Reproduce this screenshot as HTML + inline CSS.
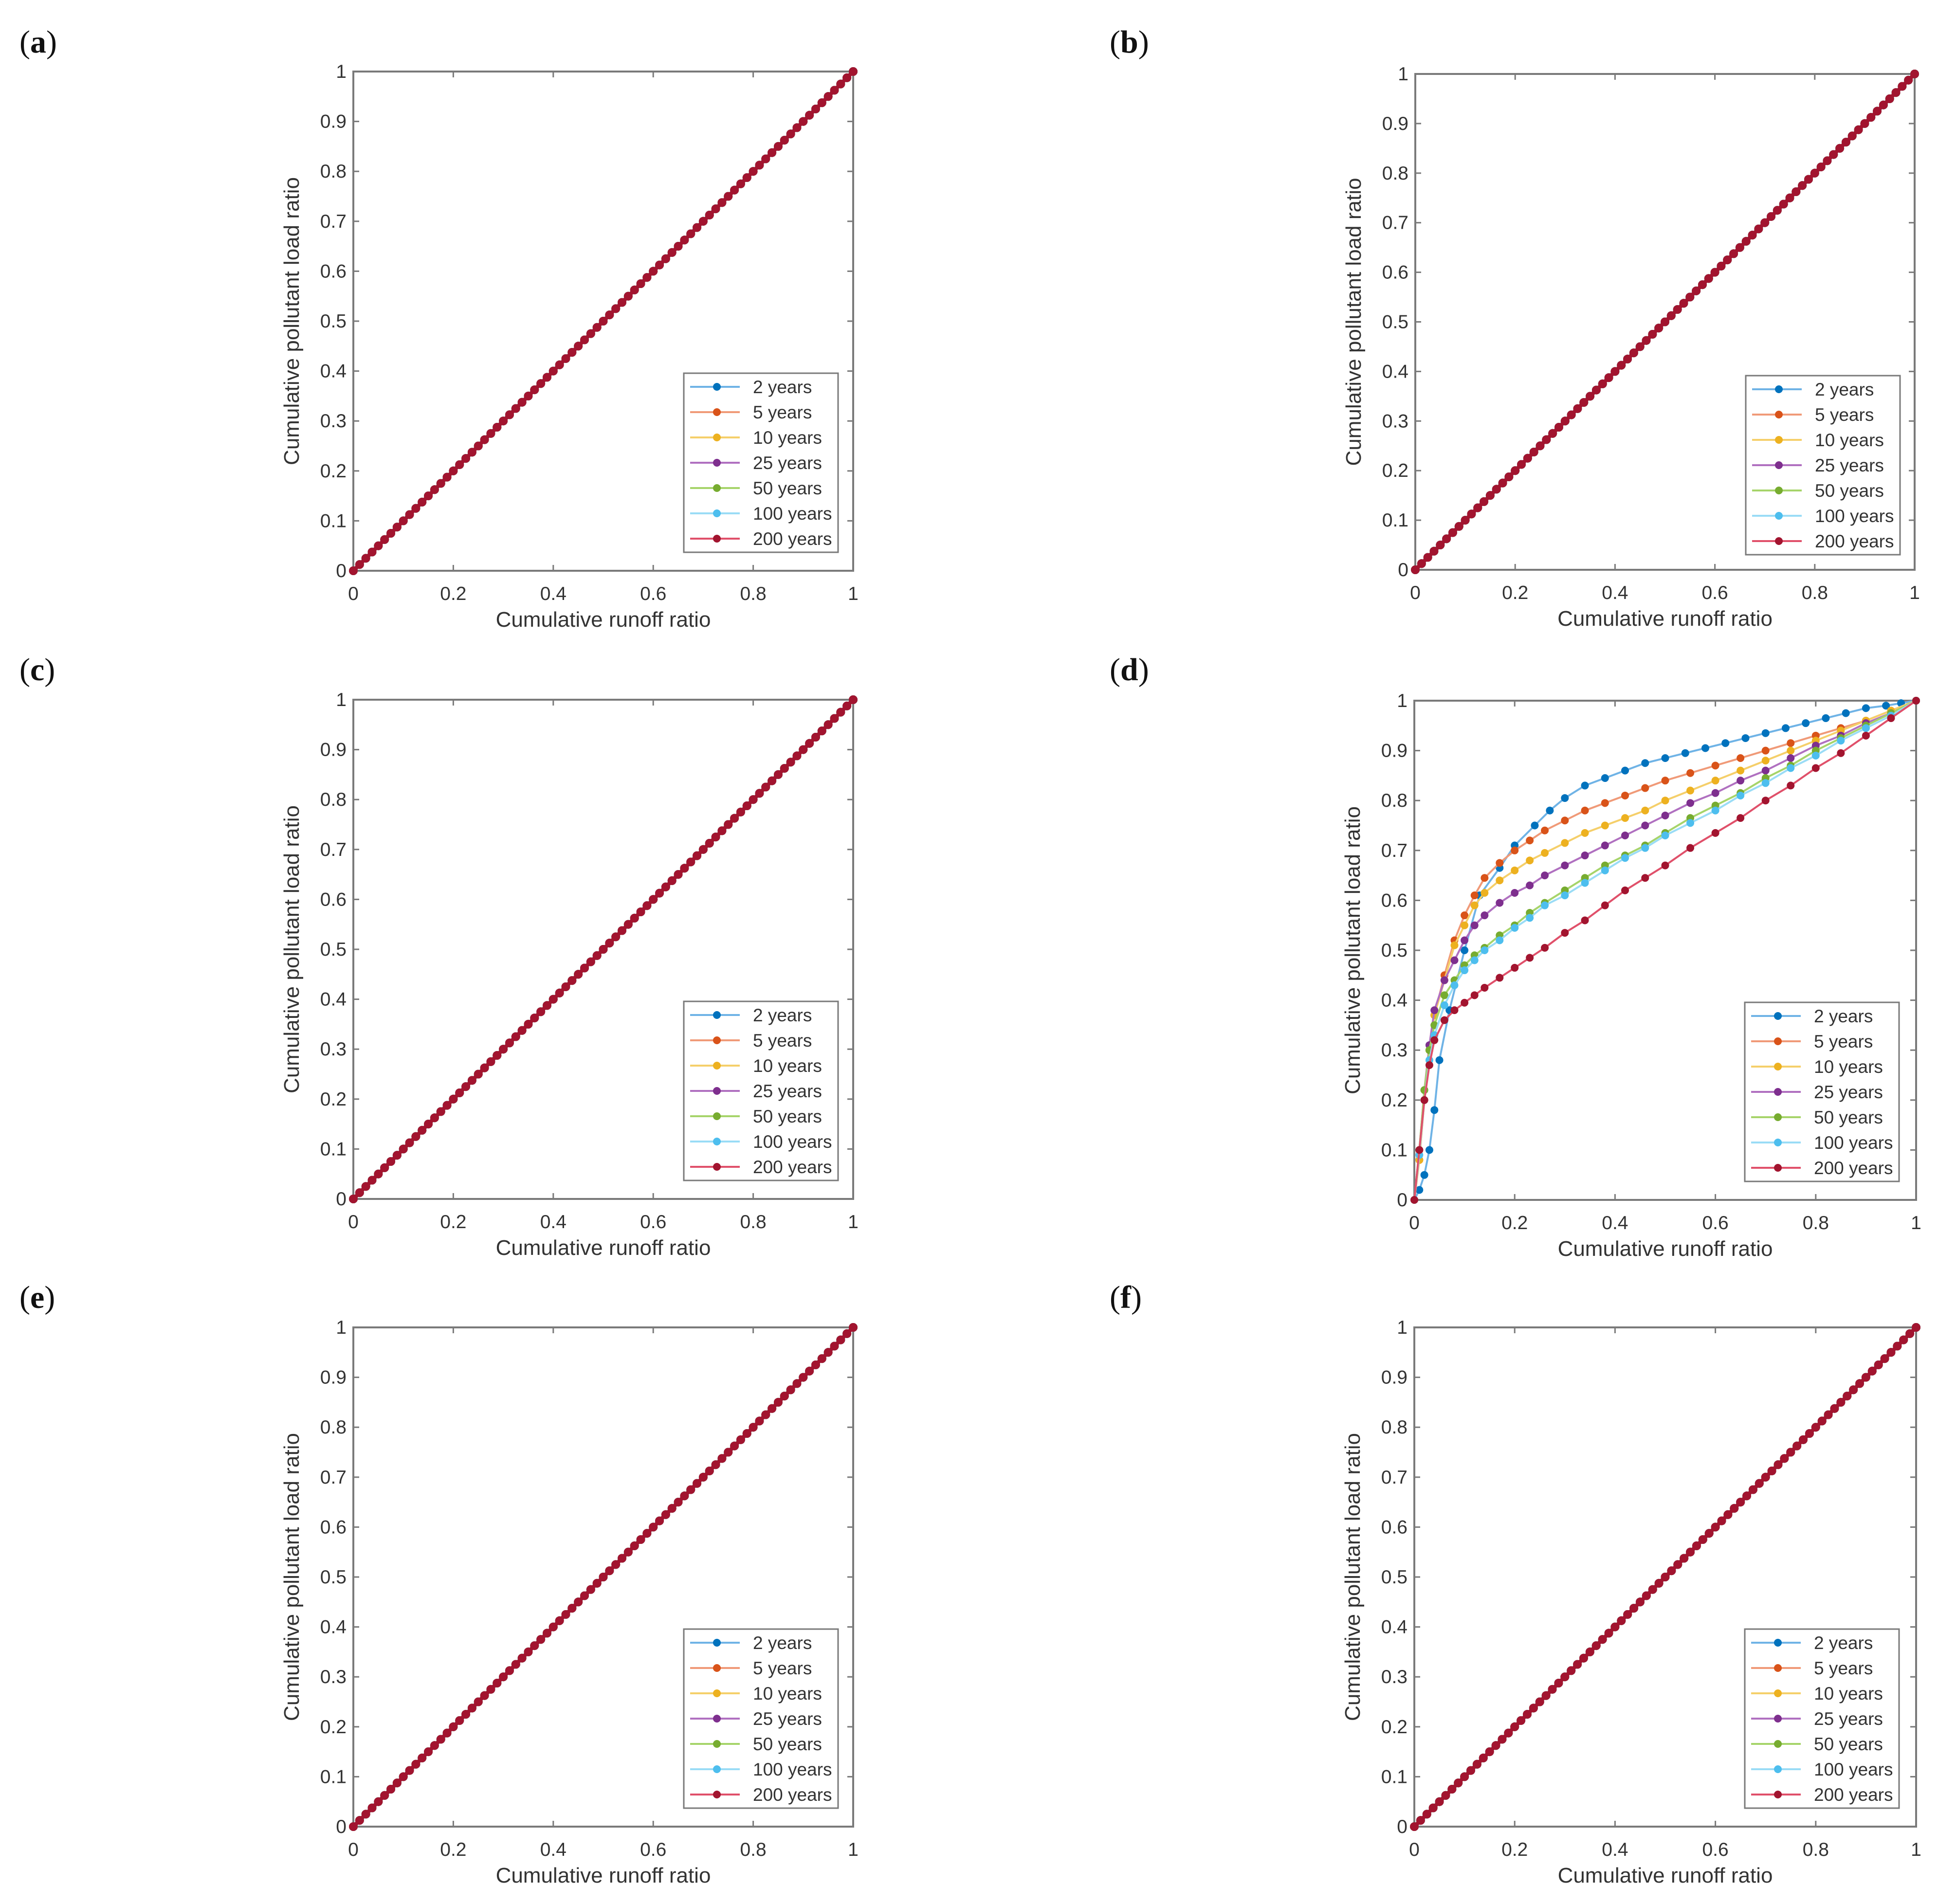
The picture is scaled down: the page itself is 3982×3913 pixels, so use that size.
<!DOCTYPE html>
<html><head><meta charset="utf-8">
<style>
html,body{margin:0;padding:0;background:#fff;}
svg{display:block;}
text{font-family:"Liberation Sans",sans-serif;}
text.plabel{font-family:"Liberation Serif",serif;}
</style></head>
<body>
<svg id="fig" width="3982" height="3913" viewBox="0 0 3982 3913" xmlns="http://www.w3.org/2000/svg">
<rect width="3982" height="3913" fill="#fff"/>
</svg>
<script>
// ---- data ----
const seriesNames = ["2 years","5 years","10 years","25 years","50 years","100 years","200 years"];
const markerColors = ["#0072BD","#D95319","#EDB120","#7E2F8E","#77AC30","#4DBEEE","#A2142F"];
const lineColors = ["#6fb3e6","#f09a78","#f5cf6a","#b070c0","#a6d46a","#9adcf6","#e0506a"];
const xTicks = [0,0.2,0.4,0.6,0.8,1];
const xTickLabels = ["0","0.2","0.4","0.6","0.8","1"];
const yTicks = [0,0.1,0.2,0.3,0.4,0.5,0.6,0.7,0.8,0.9,1];
const yTickLabels = ["0","0.1","0.2","0.3","0.4","0.5","0.6","0.7","0.8","0.9","1"];
const panelLetters = ["a","b","c","d","e","f"];

// near-diagonal panels: x grid and y values (y equals x)
const diagX = [0,0.0125,0.025,0.0375,0.05,0.0625,0.075,0.0875,0.1,0.1125,0.125,0.1375,0.15,0.1625,0.175,0.1875,0.2,0.2125,0.225,0.2375,0.25,0.2625,0.275,0.2875,0.3,0.3125,0.325,0.3375,0.35,0.3625,0.375,0.3875,0.4,0.4125,0.425,0.4375,0.45,0.4625,0.475,0.4875,0.5,0.5125,0.525,0.5375,0.55,0.5625,0.575,0.5875,0.6,0.6125,0.625,0.6375,0.65,0.6625,0.675,0.6875,0.7,0.7125,0.725,0.7375,0.75,0.7625,0.775,0.7875,0.8,0.8125,0.825,0.8375,0.85,0.8625,0.875,0.8875,0.9,0.9125,0.925,0.9375,0.95,0.9625,0.975,0.9875,1];
const diagY = [0,0.0125,0.025,0.0375,0.05,0.0625,0.075,0.0875,0.1,0.1125,0.125,0.1375,0.15,0.1625,0.175,0.1875,0.2,0.2125,0.225,0.2375,0.25,0.2625,0.275,0.2875,0.3,0.3125,0.325,0.3375,0.35,0.3625,0.375,0.3875,0.4,0.4125,0.425,0.4375,0.45,0.4625,0.475,0.4875,0.5,0.5125,0.525,0.5375,0.55,0.5625,0.575,0.5875,0.6,0.6125,0.625,0.6375,0.65,0.6625,0.675,0.6875,0.7,0.7125,0.725,0.7375,0.75,0.7625,0.775,0.7875,0.8,0.8125,0.825,0.8375,0.85,0.8625,0.875,0.8875,0.9,0.9125,0.925,0.9375,0.95,0.9625,0.975,0.9875,1];

// panel (d)
const d2X = [0,0.01,0.02,0.03,0.04,0.05,0.07,0.1,0.13,0.17,0.2,0.24,0.27,0.3,0.34,0.38,0.42,0.46,0.5,0.54,0.58,0.62,0.66,0.7,0.74,0.78,0.82,0.86,0.9,0.94,0.97,1];
const d2Y = [0,0.02,0.05,0.1,0.18,0.28,0.38,0.5,0.61,0.665,0.71,0.75,0.78,0.805,0.83,0.845,0.86,0.875,0.885,0.895,0.905,0.915,0.925,0.935,0.945,0.955,0.965,0.975,0.985,0.99,0.995,1];
const dX = [0,0.01,0.02,0.03,0.04,0.06,0.08,0.1,0.12,0.14,0.17,0.2,0.23,0.26,0.3,0.34,0.38,0.42,0.46,0.5,0.55,0.6,0.65,0.7,0.75,0.8,0.85,0.9,0.95,1];
const d5Y = [0,0.08,0.2,0.3,0.37,0.45,0.52,0.57,0.61,0.645,0.675,0.7,0.72,0.74,0.76,0.78,0.795,0.81,0.825,0.84,0.855,0.87,0.885,0.9,0.915,0.93,0.945,0.96,0.98,1];
const d10Y = [0,0.08,0.2,0.3,0.37,0.44,0.51,0.55,0.59,0.615,0.64,0.66,0.68,0.695,0.715,0.735,0.75,0.765,0.78,0.8,0.82,0.84,0.86,0.88,0.9,0.92,0.94,0.96,0.98,1];
const d25Y = [0,0.1,0.22,0.31,0.38,0.44,0.48,0.52,0.55,0.57,0.595,0.615,0.63,0.65,0.67,0.69,0.71,0.73,0.75,0.77,0.795,0.815,0.84,0.86,0.885,0.91,0.93,0.955,0.975,1];
const d50Y = [0,0.1,0.22,0.3,0.35,0.41,0.44,0.47,0.49,0.505,0.53,0.55,0.575,0.595,0.62,0.645,0.67,0.69,0.71,0.735,0.765,0.79,0.815,0.845,0.87,0.9,0.925,0.95,0.975,1];
const d100Y = [0,0.09,0.2,0.28,0.33,0.39,0.43,0.46,0.48,0.5,0.52,0.545,0.565,0.59,0.61,0.635,0.66,0.685,0.705,0.73,0.755,0.78,0.81,0.835,0.865,0.89,0.92,0.945,0.97,1];
const d200Y = [0,0.1,0.2,0.27,0.32,0.36,0.38,0.395,0.41,0.425,0.445,0.465,0.485,0.505,0.535,0.56,0.59,0.62,0.645,0.67,0.705,0.735,0.765,0.8,0.83,0.865,0.895,0.93,0.965,1];

// ---- drawing ----
const NS = "http://www.w3.org/2000/svg";
const svg = document.getElementById("fig");
function mk(tag, attrs, parent){
  const e = document.createElementNS(NS, tag);
  for (const k in attrs) e.setAttribute(k, attrs[k]);
  (parent||svg).appendChild(e);
  return e;
}
const panels = [
  {x0:726,y0:147,w:1027,h:1026,lx:40,ly:108},
  {x0:2908,y0:152,w:1026,h:1019,lx:2280,ly:108},
  {x0:726,y0:1438,w:1027,h:1026,lx:40,ly:1398},
  {x0:2906,y0:1440,w:1031,h:1026,lx:2280,ly:1398},
  {x0:726,y0:2728,w:1027,h:1026,lx:40,ly:2688},
  {x0:2906,y0:2728,w:1031,h:1026,lx:2280,ly:2688}
];
function seriesFor(i){
  if (i===3) return [[d2X,d2Y],[dX,d5Y],[dX,d10Y],[dX,d25Y],[dX,d50Y],[dX,d100Y],[dX,d200Y]];
  return seriesNames.map(()=>[diagX,diagY]);
}
panels.forEach((p,i)=>{
  const g = mk("g",{});
  
  
  const sx = v => p.x0 + v*p.w;
  const sy = v => p.y0 + p.h - v*p.h;
  const lab = mk("text",{x:p.lx,y:p.ly,"font-size":66,"class":"plabel",fill:"#111"},g);
  lab.innerHTML = '(<tspan font-weight="bold">'+panelLetters[i]+'</tspan>)';
  
  
  const box = mk("rect",{x:p.x0,y:p.y0,width:p.w,height:p.h,fill:"#fff",stroke:"#7a7a7a","stroke-width":4},g);
  
  
  xTicks.forEach((t,k)=>{
    mk("line",{x1:sx(t),x2:sx(t),y1:p.y0+p.h,y2:p.y0+p.h-12,stroke:"#7a7a7a","stroke-width":3},g);
    mk("line",{x1:sx(t),x2:sx(t),y1:p.y0,y2:p.y0+12,stroke:"#7a7a7a","stroke-width":3},g);
    const tl = mk("text",{x:sx(t),y:p.y0+p.h+60,"font-size":39,"text-anchor":"middle",fill:"#333"},g);
    tl.textContent = xTickLabels[k];
    
    
  });
  yTicks.forEach((t,k)=>{
    mk("line",{x1:p.x0,x2:p.x0+12,y1:sy(t),y2:sy(t),stroke:"#7a7a7a","stroke-width":3},g);
    mk("line",{x1:p.x0+p.w,x2:p.x0+p.w-12,y1:sy(t),y2:sy(t),stroke:"#7a7a7a","stroke-width":3},g);
    const tl = mk("text",{x:p.x0-14,y:sy(t)+13,"font-size":39,"text-anchor":"end",fill:"#333"},g);
    tl.textContent = yTickLabels[k];
    
    
  });
  const xt = mk("text",{x:p.x0+p.w/2,y:p.y0+p.h+115,"font-size":44,"text-anchor":"middle",fill:"#333"},g);
  xt.textContent = "Cumulative runoff ratio";
  
  
  const cy = p.y0+p.h/2;
  const yt = mk("text",{x:p.x0-112,y:cy,"font-size":44,"text-anchor":"middle",fill:"#333",transform:"rotate(-90 "+(p.x0-112)+" "+cy+")"},g);
  yt.textContent = "Cumulative pollutant load ratio";
  
  
  const ser = seriesFor(i);
  const diag = i!==3;
  ser.forEach((s,k)=>{
    const sg = mk("g",{},g);
    
    
    const pts = s[0].map((x,j)=>sx(x)+","+sy(s[1][j])).join(" ");
    mk("polyline",{points:pts,fill:"none",stroke:diag?markerColors[k]:lineColors[k],"stroke-width":diag?8:4},sg);
    s[0].forEach((x,j)=>{
      const c = mk("circle",{cx:sx(x),cy:sy(s[1][j]),r:diag?9:8,fill:markerColors[k]},sg);
      
      
    });
  });
  // legend
  const lx = p.x0+679, ly = p.y0+620;
  const lg = mk("g",{},g);
  
  
  mk("rect",{x:lx,y:ly,width:317,height:368,fill:"#fff",stroke:"#7a7a7a","stroke-width":3},lg);
  seriesNames.forEach((n,k)=>{
    const ry = ly+28+k*52;
    const e = mk("g",{},lg);
    
    
    mk("line",{x1:lx+13,x2:lx+115,y1:ry,y2:ry,stroke:lineColors[k],"stroke-width":4},e);
    mk("circle",{cx:lx+68,cy:ry,r:8,fill:markerColors[k]},e);
    const t = mk("text",{x:lx+142,y:ry+13,"font-size":37,fill:"#333"},e);
    t.textContent = n;
  });
});
</script>
</body></html>
